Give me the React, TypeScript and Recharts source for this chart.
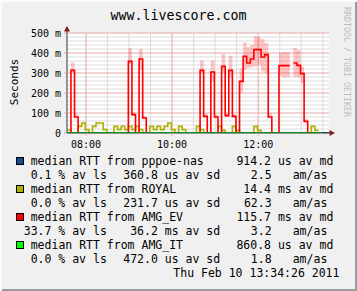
import { useMemo } from 'react'
import { ComposedChart, Line, Area, XAxis, YAxis, CartesianGrid } from 'recharts'

// 5-minute bins, minutes since midnight (first bin starts 07:34)
const START = 454
const STEP = 5

// median RTT per bin, in milliseconds (null = no data)
const RED_MED: (number | null)[] = [
  0, 313, 80, 0, 0, 0, 0, 0, 0, 0,
  0, 0, 0, 0, 0, 0, 0, 358, 92, 0,
  370, 75, 0, 0, 0, 0, 0, 0, 0, 0,
  0, 0, 0, 0, 0, 0, 0, 313, 83, 0,
  305, 80, 0, 333, 87, 313, 83, 0, 258, 383,
  350, 370, 417, 417, 380, 392, 80, 0, 0, 337,
  337, 337, null, 350, 338, 297, 58, 0, 0, 0,
  0, null, null,
]

const ROYAL_MED: (number | null)[] = [
  15, 0, 0, 33, 50, 17, 0, 33, 50, 50,
  17, 0, 0, 33, 17, 33, 17, 33, 17, 33,
  17, 0, 0, 33, 17, 33, 17, 33, 50, 17,
  0, 33, 17, 0, 0, 0, 33, 17, 0, 0,
  0, 0, 33, 13, 0, 0, 33, 13, 0, 0,
  0, 0, 33, 13, 0, 0, 0, 0, 0, 0,
  0, 0, 0, 0, 0, 0, 0, 0, 33, 13,
  null, null, null,
]

const PPPOE_MED: (number | null)[] = [
  0.9, 0.9, 0.9, 0.9, 0.9, 0.9, 0.9, 0.9, 0.9, 0.9,
  0.9, 0.9, 0.9, 0.9, 0.9, 0.9, 0.9, 0.9, 0.9, 0.9,
  0.9, 0.9, 0.9, 0.9, 0.9, 0.9, 0.9, 0.9, 0.9, 0.9,
  0.9, 0.9, 0.9, 0.9, 0.9, 0.9, 0.9, 0.9, 0.9, 0.9,
  0.9, 0.9, 0.9, 0.9, 0.9, 0.9, 0.9, 0.9, 0.9, 0.9,
  0.9, 0.9, 0.9, 0.9, 0.9, 0.9, 0.9, 0.9, 0.9, 0.9,
  0.9, 0.9, 0.9, 0.9, 0.9, 0.9, 0.9, 0.9, 0.9, 0.9,
  0.9, 0.9, 0.9,
]

const AMG_IT_MED: (number | null)[] = [
  0.86, 0.86, 0.86, 0.86, 0.86, 0.86, 0.86, 0.86, 0.86, 0.86,
  0.86, 0.86, 0.86, 0.86, 0.86, 0.86, 0.86, 0.86, 0.86, 0.86,
  0.86, 0.86, 0.86, 0.86, 0.86, 0.86, 0.86, 0.86, 0.86, 0.86,
  0.86, 0.86, 0.86, 0.86, 0.86, 0.86, 0.86, 0.86, 0.86, 0.86,
  0.86, 0.86, 0.86, 0.86, 0.86, 0.86, 0.86, 0.86, 0.86, 0.86,
  0.86, 0.86, 0.86, 0.86, 0.86, 0.86, 0.86, 0.86, 0.86, 0.86,
  0.86, 0.86, 0.86, 0.86, 0.86, 0.86, 0.86, 0.86, 0.86, 0.86,
  0.86, null, null,
]

// smoke band for AMG_EV: [bin, low ms, high ms]
const RED_SMOKE: [number, number, number][] = [
  [1, 300, 353], [2, 74, 96],
  [17, 345, 425], [18, 86, 104], [20, 316, 421], [21, 70, 84],
  [37, 300, 362], [38, 78, 96], [40, 258, 362], [41, 74, 92],
  [43, 303, 395], [44, 80, 100], [45, 278, 387], [46, 76, 94],
  [48, 203, 322], [49, 317, 453], [50, 325, 430], [51, 330, 440],
  [52, 333, 485], [53, 340, 480], [54, 308, 470], [55, 300, 450], [56, 78, 100],
  [59, 285, 400], [60, 278, 405], [61, 280, 402],
  [63, 280, 425], [64, 278, 415], [65, 250, 333], [66, 52, 70],
]

const Y_TICKS = [0, 100, 200, 300, 400, 500]
const Y_MINOR = [20, 40, 60, 80, 120, 140, 160, 180, 220, 240, 260, 280, 320, 340, 360, 380, 420, 440, 460, 480]
const T_TICKS = [480, 600, 720]
const T_MINOR = [510, 540, 570, 630, 660, 690, 750, 780, 810]

const LEGEND = [
  { color: '#0f4f8c', name: 'median RTT from pppoe-nas', md: '914.2 us av md', ls: '0.1 % av ls', sd: '360.8 us av sd', amas: '2.5' },
  { color: '#b0b000', name: 'median RTT from ROYAL', md: '14.4 ms av md', ls: '0.0 % av ls', sd: '231.7 us av sd', amas: '62.3' },
  { color: '#ff0000', name: 'median RTT from AMG_EV', md: '115.7 ms av md', ls: '33.7 % av ls', sd: '36.2 ms av sd', amas: '3.2' },
  { color: '#00ff00', name: 'median RTT from AMG_IT', md: '860.8 us av md', ls: '0.0 % av ls', sd: '472.0 us av sd', amas: '1.8' },
]

const W = 357
const H = 291
const MONO = "'DejaVu Sans Mono', monospace"
const MGRID = '#e4a8a8'
const GRID = '#dcdcdc'
const AXIS = '#2c3b36'
const ARROW = '#7f1f1f'

const hhmm = (m: number) =>
  `${String(Math.floor(m / 60)).padStart(2, '0')}:${String(m % 60).padStart(2, '0')}`

const txt = (extra: React.CSSProperties): React.CSSProperties => ({
  position: 'absolute',
  fontFamily: MONO,
  fontSize: 11.5,
  lineHeight: '14px',
  whiteSpace: 'pre',
  color: '#000',
  ...extra,
})

export default function App() {
  const rows = useMemo(() => {
    const smoke = new Map(RED_SMOKE.map(([k, lo, hi]) => [k, [lo, hi]]))
    const out: Record<string, unknown>[] = []
    RED_MED.forEach((red, k) => {
      const vals = {
        red,
        royal: ROYAL_MED[k] ?? null,
        pppoe: PPPOE_MED[k] ?? null,
        amgit: AMG_IT_MED[k] ?? null,
        smoke: smoke.get(k) ?? null,
      }
      const t = START + STEP * k
      // each bin drawn as a flat step from its start to its end
      out.push({ t, ...vals }, { t: t + STEP, ...vals })
    })
    return out
  }, [])

  return (
    <div
      style={{
        position: 'absolute', left: 0, top: 0, width: W, height: H,
        background: '#f0f0f0', overflow: 'hidden',
        boxShadow: 'inset 2px 2px 0 #fbfbfb, inset -2px -2px 0 #9a9a9a',
      }}
    >
      <div style={txt({ left: 0, top: 9, width: W, textAlign: 'center', fontSize: 13.3, lineHeight: '14px' })}>
        www.livescore.com
      </div>
      <div style={txt({ left: 346, top: 62, fontSize: 8.3, lineHeight: '9px', color: '#bdbdbd', transform: 'translate(-50%, -50%) rotate(90deg)' })}>
        RRDTOOL / TOBI OETIKER
      </div>
      <div style={txt({ left: 14.5, top: 82, fontSize: 11, transform: 'translate(-50%, -50%) rotate(-90deg)' })}>
        Seconds
      </div>

      <div style={{ position: 'absolute', left: 0, top: 0 }}>
        <ComposedChart width={W} height={H} data={rows} margin={{ top: 33, right: 28, bottom: 138, left: 0 }}>
          <CartesianGrid fill="#ffffff" stroke={GRID} horizontalValues={Y_MINOR} verticalValues={T_MINOR} />
          <CartesianGrid stroke={MGRID} horizontalValues={Y_TICKS.slice(1)} verticalValues={T_TICKS} />
          <XAxis
            type="number" dataKey="t" domain={[453.5, 818.7]} allowDataOverflow
            ticks={T_TICKS} interval={0} tickFormatter={hhmm} height={20}
            tickSize={3} tickMargin={5} tickLine={{ stroke: MGRID }} axisLine={{ stroke: AXIS }}
            tick={{ fontFamily: MONO, fontSize: 10, fill: '#000' }}
          />
          <YAxis
            type="number" domain={[0, 500]} allowDataOverflow ticks={Y_TICKS} interval={0} width={67}
            tickFormatter={(v: number) => (v === 0 ? '0' : `${v} m`)}
            tickSize={3} tickMargin={3} tickLine={{ stroke: MGRID }} axisLine={{ stroke: AXIS }}
            tick={{ fontFamily: MONO, fontSize: 10, fill: '#000' }}
          />
          <Area
            dataKey="smoke" type="linear" stroke="none" fill="#ff0000" fillOpacity={0.22}
            isAnimationActive={false} dot={false} activeDot={false}
          />
          <Line dataKey="pppoe" type="linear" stroke="#0f4f8c" strokeWidth={1.5} dot={false} activeDot={false} isAnimationActive={false} />
          <Line dataKey="royal" type="linear" stroke="#b0b000" strokeWidth={1.6} dot={false} activeDot={false} isAnimationActive={false} />
          <Line dataKey="red" type="linear" stroke="#ff0000" strokeWidth={1.6} dot={false} activeDot={false} isAnimationActive={false} />
          <Line dataKey="amgit" type="linear" stroke="#00e000" strokeWidth={1.6} dot={false} activeDot={false} isAnimationActive={false} />
        </ComposedChart>
      </div>

      <svg width={W} height={H} style={{ position: 'absolute', left: 0, top: 0, pointerEvents: 'none' }}>
        <line x1={67} y1={27} x2={67} y2={33} stroke={AXIS} />
        <polygon points="64,31.5 70,31.5 67,26" fill={ARROW} />
        <line x1={329} y1={133} x2={333} y2={133} stroke={AXIS} />
        <polygon points="329.5,130 329.5,136 335,133" fill={ARROW} />
      </svg>

      {LEGEND.map((r, i) => {
        const top = 154 + i * 28
        return (
          <div key={r.name}>
            <div style={{ position: 'absolute', left: 16, top: top + 3, width: 6, height: 6, background: r.color, border: '1px solid #000' }} />
            <div style={txt({ left: 30.7, top })}>{r.name}</div>
            <div style={txt({ right: W - 333.3, top })}>{r.md}</div>
            <div style={txt({ right: W - 106.8, top: top + 14 })}>{r.ls}</div>
            <div style={txt({ right: W - 220.2, top: top + 14 })}>{r.sd}</div>
            <div style={txt({ right: W - 271.6, top: top + 14 })}>{r.amas}</div>
            <div style={txt({ left: 292.7, top: top + 14 })}>am/as</div>
          </div>
        )
      })}
      <div style={txt({ left: 173.3, top: 266 })}>Thu Feb 10 13:34:26 2011</div>
    </div>
  )
}
